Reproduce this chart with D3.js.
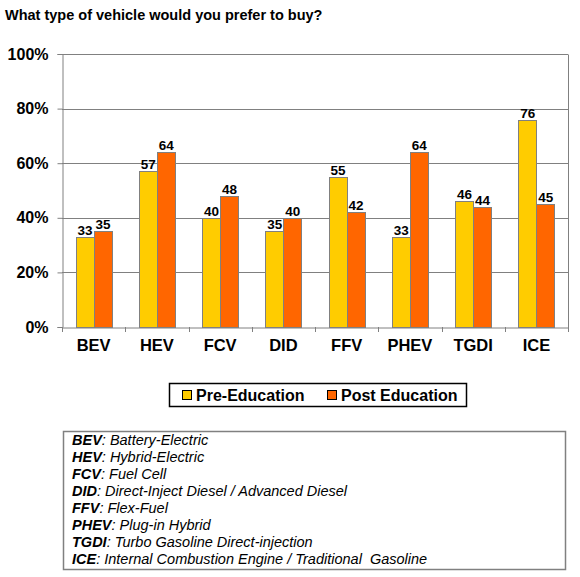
<!DOCTYPE html>
<html>
<head>
<meta charset="utf-8">
<script src="https://cdn.jsdelivr.net/npm/d3@7"></script>
<style>
	body { margin: 0; background: #fff; }
	svg { display: block; font-family: Arial, "Liberation Sans", sans-serif; }
</style>
</head>
<body>
<svg id="chart" width="580" height="577"></svg>
<script>
/*=================================
	DATA
**===============================*/

var categories = ["BEV", "HEV", "FCV", "DID", "FFV", "PHEV", "TGDI", "ICE"];
var preEducation = [33, 57, 40, 35, 55, 33, 46, 76];
var postEducation = [35, 64, 48, 40, 42, 64, 44, 45];
var seriesNames = ["Pre-Education", "Post Education"];
var yTicks = [0, 20, 40, 60, 80, 100];
var defAbbr = ["BEV", "HEV", "FCV", "DID", "FFV", "PHEV", "TGDI", "ICE"];
var defText = [
	"Battery-Electric",
	"Hybrid-Electric",
	"Fuel Cell",
	"Direct-Inject Diesel / Advanced Diesel",
	"Flex-Fuel",
	"Plug-in Hybrid",
	"Turbo Gasoline Direct-injection",
	"Internal Combustion Engine / Traditional  Gasoline"
];

/*=================================
	SETUP
**===============================*/

var colors = ["#FFCC00", "#FF6600"],
	grey = "#808080";

var svg = d3.select("#chart");
var plot = {left: 62, right: 568, top: 54, bottom: 327};

var x = d3.scaleBand().domain(categories).range([plot.left, plot.right]);
var barW = 18;
var y = d3.scaleLinear().domain([0, 100]).range([plot.bottom, plot.top]);

var rows = categories.map(function(c, i) {
	return {cat: c, vals: [preEducation[i], postEducation[i]]};
});

//Title
svg.append("text")
	.attr("x", 5).attr("y", 20)
	.style("font-size", "14.5px").style("font-weight", "bold")
	.text("What type of vehicle would you prefer to buy?");

/*=================================
	GRID + AXES
**===============================*/

svg.append("g").selectAll("line").data(yTicks.slice(1)).enter().append("line")
	.attr("x1", plot.left).attr("x2", plot.right)
	.attr("y1", function(d) { return Math.round(y(d)) + 0.5; })
	.attr("y2", function(d) { return Math.round(y(d)) + 0.5; })
	.attr("stroke", grey);

//right border
svg.append("line")
	.attr("x1", plot.right + 0.5).attr("x2", plot.right + 0.5)
	.attr("y1", plot.top + 0.5).attr("y2", plot.bottom)
	.attr("stroke", grey);

var yAxis = svg.append("g")
	.attr("transform", "translate(" + (plot.left + 0.5) + ",0)")
	.call(d3.axisLeft(y).tickValues(yTicks).tickSize(5).tickPadding(9)
		.tickFormat(function(d) { return d + "%"; }));
yAxis.select(".domain").attr("stroke", grey);
yAxis.selectAll(".tick line").attr("stroke", grey);
yAxis.selectAll("text")
	.attr("fill", "#000")
	.style("font-size", "16px").style("font-weight", "bold")
	.style("font-family", "Arial, 'Liberation Sans', sans-serif");

var xAxis = svg.append("g")
	.attr("transform", "translate(0," + (plot.bottom + 0.5) + ")")
	.call(d3.axisBottom(x).tickSize(0).tickPadding(0));
xAxis.select(".domain").attr("stroke", grey);
xAxis.selectAll("text")
	.attr("fill", "#000").attr("y", 23).attr("dy", 0)
	.style("font-size", "16.5px").style("font-weight", "bold")
	.style("font-family", "Arial, 'Liberation Sans', sans-serif");

//tick marks between categories
var bounds = categories.map(function(c) { return x(c); }).concat([plot.right]);
svg.append("g").selectAll("line").data(bounds).enter().append("line")
	.attr("x1", function(d) { return Math.round(d) + 0.5; })
	.attr("x2", function(d) { return Math.round(d) + 0.5; })
	.attr("y1", plot.bottom).attr("y2", plot.bottom + 5)
	.attr("stroke", grey);

/*=================================
	BARS
**===============================*/

var groups = svg.append("g").selectAll("g").data(rows).enter().append("g");

function barX(d, s) {
	var cx = x(d.cat) + x.bandwidth() / 2;
	return cx - barW + s * barW;
}

[0, 1].forEach(function(s) {
	groups.append("rect")
		.attr("x", function(d) { return Math.round(barX(d, s)) + 0.5; })
		.attr("y", function(d) { return Math.round(y(d.vals[s])) + 0.5; })
		.attr("width", barW)
		.attr("height", function(d) { return Math.round(y(0)) - Math.round(y(d.vals[s])); })
		.attr("fill", colors[s])
		.attr("stroke", grey);

	groups.append("text")
		.attr("x", function(d) { return barX(d, s) + barW / 2 + 0.5; })
		.attr("y", function(d) { return y(d.vals[s]) - 2; })
		.attr("text-anchor", "middle")
		.style("font-size", "13.5px").style("font-weight", "bold")
		.text(function(d) { return d.vals[s]; });
});

/*=================================
	LEGEND
**===============================*/

var legend = svg.append("g");
legend.append("rect")
	.attr("x", 169.5).attr("y", 383.5).attr("width", 297).attr("height", 23)
	.attr("fill", "#fff").attr("stroke", "#000").attr("stroke-width", 1.5);

var legX = [182, 327];
seriesNames.forEach(function(n, i) {
	legend.append("rect")
		.attr("x", legX[i] + 0.5).attr("y", 390.5).attr("width", 9).attr("height", 9)
		.attr("fill", colors[i]).attr("stroke", "#000");
	legend.append("text")
		.attr("x", legX[i] + 14).attr("y", 401)
		.style("font-size", "16px").style("font-weight", "bold")
		.text(n);
});

/*=================================
	DEFINITIONS BOX
**===============================*/

var defs = svg.append("g");
defs.append("rect")
	.attr("x", 63.5).attr("y", 431.5).attr("width", 502).attr("height", 138)
	.attr("fill", "#fff").attr("stroke", grey).attr("stroke-width", 1.5);

defAbbr.forEach(function(a, i) {
	var t = defs.append("text")
		.attr("x", 72).attr("y", 445 + i * 17)
		.style("font-size", "14.5px").style("font-style", "italic")
		.style("white-space", "pre");
	t.append("tspan").style("font-weight", "bold").text(a);
	t.append("tspan").text(": " + defText[i]);
});
</script>
</body>
</html>
